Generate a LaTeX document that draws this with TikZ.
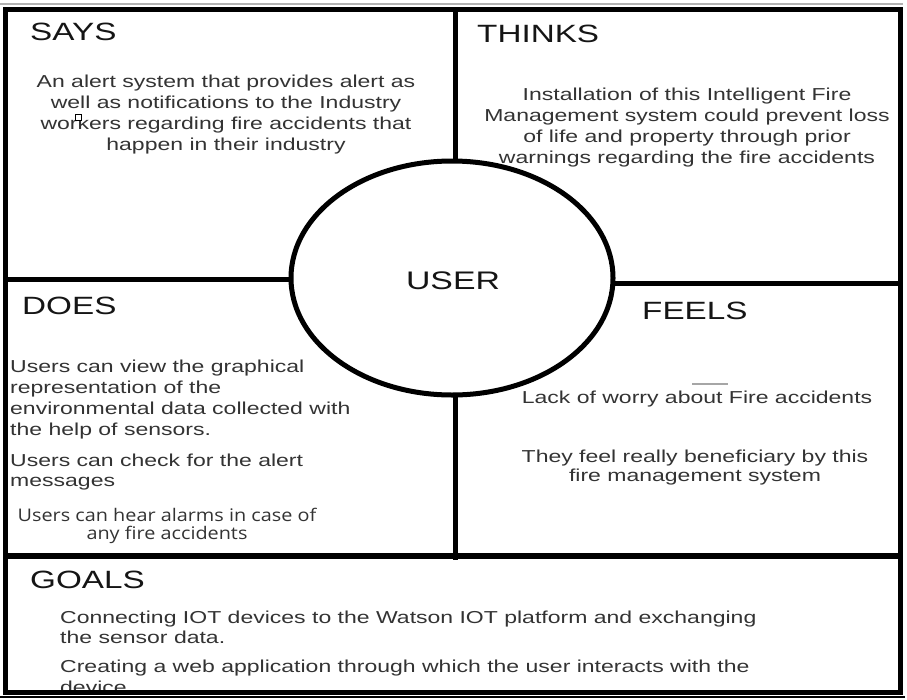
\documentclass[tikz,border=0pt]{standalone}
\usepackage{fontspec}
\usetikzlibrary{shapes.geometric}
\newfontfamily\arialx{Liberation Sans}[FakeStretch=1.33]
\newfontfamily\opensx{Open Sans}[FakeStretch=1.14]
\definecolor{bodygray}{HTML}{333333}
\definecolor{titlegray}{HTML}{151515}
\tikzset{
  border/.style={line width=5pt, line cap=rect},
  title/.style={anchor=base west, inner sep=0pt, text=titlegray, font=\arialx\fontsize{25}{30}\selectfont},
  bodyc/.style={anchor=base, inner sep=0pt, text=bodygray, font=\arialx\fontsize{17.3}{21}\selectfont},
  bodyl/.style={anchor=base west, inner sep=0pt, text=bodygray, font=\arialx\fontsize{17.3}{21}\selectfont},
  bodyo/.style={anchor=base, inner sep=0pt, text=bodygray, font=\opensx\fontsize{17.4}{20}\selectfont},
}
\begin{document}
\begin{tikzpicture}[x=1pt,y=-1pt]
\useasboundingbox[fill=white] (0,0) rectangle (907,699);
% thin frame artefacts
\draw[gray!60, line width=1.2pt] (0,4) -- (903,4);
\draw[black, line width=1.2pt] (0,697) -- (905,697);
% grid
\draw[border] (5,9) rectangle (900,692);
\draw[border] (5,279) -- (455,279);
\draw[border] (455,283) -- (900,283);
\draw[border] (455,9) -- (455,557);
\draw[line width=6pt] (5,556) -- (900,556);
% centre ellipse
\node[draw, line width=5pt, fill=white, ellipse, minimum width=322pt, minimum height=234pt, inner sep=0pt] (user) at (452,278) {};
\node[anchor=base, inner sep=0pt, text=titlegray, font=\arialx\fontsize{25.4}{30}\selectfont] (usertxt) at (453,289) {USER};
% titles
\node[title] (says) at (30,40) {SAYS};
\node[title] (thinks) at (477,42) {THINKS};
\node[title] (does) at (22,314) {DOES};
\node[title] (feels) at (642,319) {FEELS};
\node[title] (goals) at (30,588) {GOALS};
% SAYS body
\foreach \t [count=\i] in {An alert system that provides alert as, well as notifications to the Industry, workers regarding fire accidents that, happen in their industry}
  \node[bodyc] (says\i) at (226,{87+21*(\i-1)}) {\t};
\draw[black, line width=0.7pt, fill=white] (75,114) rectangle (81,120);
% THINKS body
\foreach \t [count=\i] in {Installation of this Intelligent Fire, Management system could prevent loss, of life and property through prior, warnings regarding the fire accidents}
  \node[bodyc] (thinks\i) at (687,{100+21*(\i-1)}) {\t};
% DOES body
\foreach \t [count=\i] in {Users can view the graphical, representation of the, environmental data collected with, the help of sensors.}
  \node[bodyl] (does\i) at (10,{372+21*(\i-1)}) {\t};
\node[bodyl] (does5) at (10,466) {Users can check for the alert};
\node[bodyl] (does6) at (10,486) {messages};
\node[bodyo] (does7) at (167,521) {Users can hear alarms in case of};
\node[bodyo] (does8) at (167,539) {any fire accidents};
% FEELS body
\draw[gray!70, line width=1.2pt] (692,384) -- (728,384);
\node[bodyc] (feels1) at (697,403) {Lack of worry about Fire accidents};
\node[bodyc] (feels2) at (695,462) {They feel really beneficiary by this};
\node[bodyc] (feels3) at (695,481) {fire management system};
% GOALS body
\node[bodyl] (goals1) at (60,623) {Connecting IOT devices to the Watson IOT platform and exchanging};
\node[bodyl] (goals2) at (60,643) {the sensor data.};
\node[bodyl] (goals3) at (60,672) {Creating a web application through which the user interacts with the};
\begin{scope}
\clip (6,600) rectangle (899,689);
\node[bodyl] (goals4) at (60,693) {device};
\end{scope}
\end{tikzpicture}
\end{document}
